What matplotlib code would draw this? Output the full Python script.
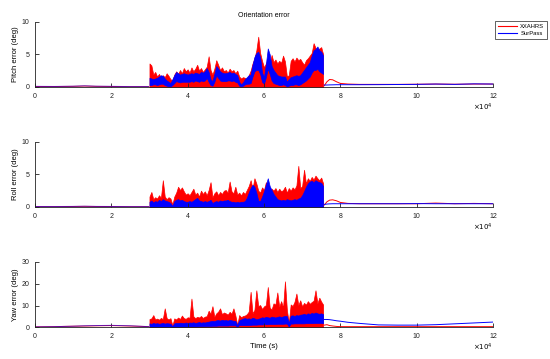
import numpy as np
import matplotlib
matplotlib.use("Agg")
import matplotlib.pyplot as plt

plt.rcParams['font.family'] = ['Liberation Sans', 'DejaVu Sans']

# sample times of the noisy part, in units of 1e4 s (3.00 .. 7.55, every 0.05)
t_noise = np.round(np.arange(3.0, 7.56, 0.05), 2) * 1e4

# quiet parts before / after the noisy part
t_before = np.array([0, 0.5, 1.0, 1.3, 1.6, 2.0, 2.5, 2.98]) * 1e4
t_after = np.array([7.58, 7.65, 7.72, 7.8, 7.9, 8.0, 8.2, 8.5, 9.0, 9.5, 10.0, 10.5, 11.0, 11.5, 12.0]) * 1e4

# ---- pitch ----
pitch_red_top = [
    3.6, 3.3, 1.9, 2.3, 1.6, 2.0, 1.4, 1.8, 1.5, 2.1,
    1.7, 1.2, 1.0, 1.9, 2.4, 2.0, 2.6, 2.1, 2.9, 2.4,
    2.7, 2.2, 3.0, 2.4, 2.8, 3.4, 2.5, 2.9, 2.3, 2.7,
    3.1, 4.7, 2.6, 1.9, 2.8, 4.1, 3.4, 2.6, 3.0, 2.4,
    2.6, 2.2, 2.8, 2.4, 2.6, 2.1, 2.5, 1.6, 1.3, 1.5,
    1.4, 1.2, 1.8, 2.5, 3.6, 4.4, 5.6, 7.7, 5.2, 4.0,
    3.0, 3.6, 4.2, 3.5, 4.9, 3.8, 4.2, 3.6, 4.0, 3.7,
    4.8, 3.9, 1.6, 1.8, 4.0, 4.4, 3.9, 4.5, 4.1, 4.3,
    3.8, 3.4, 4.1, 4.4, 4.8, 5.2, 6.7, 6.0, 5.5, 5.9,
    6.1, 5.0]
pitch_blue_hi = [
    1.4, 1.3, 1.2, 1.3, 1.4, 1.6, 1.8, 1.7, 1.3, 1.0,
    0.8, 0.6, 1.2, 1.8, 2.3, 2.1, 1.9, 2.0, 2.1, 2.0,
    1.9, 2.0, 2.1, 2.0, 2.2, 2.1, 2.0, 2.3, 2.2, 2.4,
    2.9, 2.3, 1.2, 0.9, 2.0, 3.2, 2.8, 2.4, 2.2, 2.1,
    2.1, 2.2, 2.3, 2.1, 2.2, 2.0, 1.8, 0.8, 0.4, 0.7,
    1.2, 1.5, 1.8, 1.9, 3.4, 4.6, 5.2, 5.4, 4.5, 2.2,
    1.5, 3.5, 5.9, 5.0, 3.2, 2.6, 2.2, 1.8, 1.7, 1.6,
    1.6, 1.6, 0.8, 1.2, 1.5, 1.6, 1.7, 1.8, 1.7, 1.8,
    2.2, 2.6, 3.0, 3.4, 3.8, 4.8, 5.6, 5.8, 6.2, 5.6,
    5.4, 4.8]
pitch_blue_lo = [
    0.3, 0.3, 0.4, 0.4, 0.3, 0.4, 0.5, 0.5, 0.3, 0.2,
    0.1, 0.1, 0.3, 0.6, 0.9, 0.8, 0.7, 0.8, 0.8, 0.8,
    0.8, 0.8, 0.9, 0.8, 1.0, 0.9, 0.8, 1.0, 0.9, 1.0,
    1.4, 0.8, 0.3, 0.2, 0.8, 1.8, 1.4, 1.0, 0.9, 0.9,
    0.9, 1.0, 1.0, 0.9, 1.0, 0.8, 0.7, 0.2, 0.1, 0.2,
    0.4, 0.5, 0.5, 0.6, 1.6, 2.4, 2.6, 2.6, 2.0, 0.8,
    0.5, 1.5, 2.8, 2.0, 1.0, 0.6, 0.5, 0.4, 0.3, 0.3,
    0.4, 0.3, 0.1, 0.2, 0.3, 0.3, 0.4, 0.4, 0.3, 0.4,
    0.6, 0.8, 1.0, 1.3, 1.6, 2.2, 2.6, 2.6, 2.8, 2.4,
    2.2, 2.0]
pitch_red_before = [0.08, 0.07, 0.1, 0.15, 0.1, 0.08, 0.05, 0.05]
pitch_blue_before = [0.1, 0.08, 0.12, 0.18, 0.12, 0.1, 0.06, 0.06]
pitch_red_after = [0.2, 0.8, 1.15, 1.1, 0.8, 0.55, 0.45, 0.4, 0.4, 0.4, 0.42, 0.45, 0.42, 0.45, 0.45]
pitch_blue_after = [0.3, 0.3, 0.32, 0.33, 0.35, 0.35, 0.35, 0.35, 0.36, 0.38, 0.4, 0.45, 0.4, 0.48, 0.45]

# ---- roll ----
roll_red_top = [
    1.6, 2.3, 1.2, 1.5, 1.3, 1.8, 1.4, 4.1, 1.6, 1.2,
    1.5, 1.3, 0.4, 1.6, 2.2, 3.1, 2.6, 3.0, 2.4, 1.9,
    2.1, 1.8, 2.3, 2.8, 1.9, 2.2, 1.6, 2.5, 2.0, 2.4,
    1.8, 2.6, 3.8, 1.5, 2.1, 2.4, 1.8, 2.3, 2.0, 2.5,
    2.6, 2.2, 3.9, 2.4, 2.1, 3.1, 1.9, 2.2, 1.8, 2.3,
    2.0, 2.6, 3.2, 4.1, 2.8, 4.4, 3.6, 2.5, 2.2, 3.0,
    2.6, 3.8, 3.2, 2.4, 2.8, 2.5, 2.9, 2.3, 2.8, 2.4,
    2.6, 3.1, 2.2, 2.9, 2.5, 3.0, 2.7, 3.3, 6.3, 2.9,
    3.2, 5.7, 3.6, 4.4, 4.0, 4.6, 4.2, 4.8, 4.4, 4.1,
    4.5, 3.6]
roll_blue_hi = [
    0.8, 1.0, 0.7, 0.9, 0.8, 1.1, 0.9, 1.2, 1.0, 0.9,
    0.8, 0.6, 0.2, 0.9, 1.1, 1.2, 1.0, 1.1, 0.9, 0.8,
    0.8, 0.9, 0.8, 1.0, 1.2, 1.4, 1.0, 0.9, 0.8, 0.9,
    0.8, 0.9, 1.1, 0.6, 0.8, 0.9, 0.8, 1.0, 0.9, 1.0,
    1.0, 1.1, 0.9, 0.8, 0.8, 0.7, 0.8, 0.7, 0.8, 0.8,
    0.9, 1.4, 2.2, 2.9, 3.4, 3.1, 2.2, 1.0, 0.9, 1.6,
    2.4, 3.4, 4.4, 3.2, 2.6, 2.0, 1.6, 1.2, 1.1, 1.0,
    1.1, 1.0, 1.2, 1.1, 1.0, 1.1, 1.2, 1.1, 1.3, 1.4,
    1.8, 2.4, 3.1, 3.6, 3.9, 4.0, 3.8, 4.1, 3.9, 3.8,
    3.7, 3.2]
roll_red_before = [0.06, 0.06, 0.08, 0.1, 0.08, 0.07, 0.05, 0.05]
roll_blue_before = [0.08, 0.07, 0.09, 0.12, 0.09, 0.08, 0.06, 0.06]
roll_red_after = [0.3, 0.8, 1.05, 1.1, 0.95, 0.7, 0.55, 0.5, 0.5, 0.5, 0.5, 0.6, 0.5, 0.55, 0.5]
roll_blue_after = [0.4, 0.45, 0.48, 0.5, 0.5, 0.5, 0.5, 0.5, 0.5, 0.5, 0.52, 0.5, 0.5, 0.5, 0.5]

# ---- yaw ----
yaw_red_top = [
    3.8, 4.1, 5.6, 3.6, 4.0, 3.5, 4.3, 3.8, 8.7, 4.2,
    3.6, 4.2, 0.8, 4.1, 3.6, 4.5, 3.8, 5.4, 4.2, 3.9,
    4.6, 4.4, 13.2, 5.0, 4.2, 4.8, 4.5, 5.2, 4.3, 4.9,
    5.1, 7.6, 6.2, 9.7, 4.8, 6.4, 7.2, 8.7, 6.0, 6.8,
    6.4, 5.8, 7.1, 6.2, 8.7, 5.5, 1.0, 5.6, 4.6, 5.2,
    5.4, 6.0, 7.2, 16.3, 6.4, 8.0, 17.0, 9.8, 10.2, 8.4,
    9.6, 10.2, 18.5, 9.0, 8.2, 11.0, 10.4, 16.0, 9.4, 12.0,
    9.0, 21.1, 8.0, 2.0, 10.5, 9.8, 11.7, 15.5, 10.2, 12.4,
    9.6, 11.2, 10.4, 12.0, 10.8, 11.6, 12.2, 17.0, 11.0, 13.6,
    11.8, 10.4]
yaw_blue_hi = [
    1.8, 1.6, 2.0, 1.7, 1.9, 1.6, 1.8, 2.0, 1.7, 1.9,
    1.8, 1.6, 0.5, 1.8, 2.0, 1.9, 2.1, 2.0, 1.9, 2.2,
    2.0, 2.2, 2.1, 2.3, 2.0, 2.2, 2.4, 2.1, 2.3, 2.2,
    2.4, 2.6, 2.8, 3.0, 2.8, 3.2, 3.3, 3.1, 3.4, 3.2,
    3.3, 3.1, 3.4, 3.2, 3.0, 2.9, 1.0, 3.2, 3.6, 4.0,
    4.2, 3.9, 4.1, 3.8, 4.4, 4.1, 3.6, 3.9, 4.2, 4.6,
    4.4, 4.8, 4.6, 4.4, 4.9, 4.7, 4.5, 4.8, 5.0, 4.7,
    5.0, 5.2, 5.1, 2.0, 5.3, 5.5, 5.2, 5.6, 5.4, 5.8,
    5.9, 6.2, 5.8, 6.4, 6.1, 6.6, 6.3, 6.8, 6.4, 6.2,
    6.4, 6.0]
yaw_blue_lo = [
    0.3, 0.3, 0.3, 0.3, 0.3, 0.3, 0.3, 0.3, 0.3, 0.3,
    0.3, 0.3, 0.1, 0.3, 0.3, 0.3, 0.3, 0.3, 0.3, 0.3,
    0.3, 0.4, 0.4, 0.4, 0.4, 0.4, 0.5, 0.5, 0.5, 0.5,
    0.6, 0.6, 0.6, 0.7, 0.7, 0.7, 0.8, 0.8, 0.8, 0.8,
    0.8, 0.8, 0.9, 0.9, 0.9, 0.9, 0.3, 1.0, 1.0, 1.0,
    1.0, 1.0, 1.1, 1.1, 1.2, 1.2, 1.2, 1.3, 1.3, 1.3,
    1.4, 1.4, 1.4, 1.5, 1.5, 1.5, 1.5, 1.6, 1.6, 1.6,
    1.6, 1.7, 1.7, 0.4, 1.7, 1.7, 1.8, 1.8, 1.8, 1.8,
    1.8, 1.8, 1.9, 1.9, 1.9, 1.9, 1.9, 2.0, 2.0, 2.0,
    2.0, 1.9]
yaw_red_before = [0.2, 0.3, 0.5, 0.6, 0.7, 0.8, 0.6, 0.3]
yaw_blue_before = [0.2, 0.3, 0.5, 0.7, 0.8, 0.9, 0.7, 0.3]
yaw_red_after = [1.0, 1.2, 0.8, 0.6, 0.4, 0.3, 0.3, 0.3, 0.3, 0.3, 0.3, 0.3, 0.3, 0.3, 0.3]
yaw_blue_after = [3.6, 3.6, 3.5, 3.3, 3.0, 2.8, 2.3, 1.8, 1.1, 1.0, 1.0, 1.2, 1.6, 2.0, 2.4]

RED = '#ff0000'
BLUE = '#0000ff'

panels = [
    ("Pitch error (deg)", 10, [0, 5, 10], pitch_red_top, pitch_blue_lo, pitch_blue_hi,
     pitch_red_before, pitch_blue_before, pitch_red_after, pitch_blue_after),
    ("Roll error (deg)", 10, [0, 5, 10], roll_red_top, None, roll_blue_hi,
     roll_red_before, roll_blue_before, roll_red_after, roll_blue_after),
    ("Yaw error (deg)", 30, [0, 10, 20, 30], yaw_red_top, yaw_blue_lo, yaw_blue_hi,
     yaw_red_before, yaw_blue_before, yaw_red_after, yaw_blue_after),
]
bottoms = [0.7577, 0.4234, 0.0883]

fig = plt.figure(figsize=(5.5, 3.59), dpi=100)
axes = []
for (label, ymax, yticks, rtop, blo, bhi, rb, bb, ra, ba), bot in zip(panels, bottoms):
    ax = fig.add_axes([0.0636, bot, 0.8327, 0.182])
    axes.append(ax)
    ax.fill_between(t_noise, 0, rtop, color=RED, lw=0.5, edgecolor=RED)
    lo = np.zeros(len(bhi)) if blo is None else blo
    ax.fill_between(t_noise, lo, bhi, color=BLUE, lw=0.5, edgecolor=BLUE)
    ax.plot(t_before, rb, color=RED, lw=0.7)
    ax.plot(t_before, bb, color=BLUE, lw=0.7, alpha=0.6)
    ax.plot(t_after, ra, color=RED, lw=0.7)
    ax.plot(t_after, ba, color=BLUE, lw=0.7)
    ax.set_xlim(0, 12e4)
    ax.set_ylim(0, ymax)
    ax.set_yticks(yticks)
    ax.set_xticks(np.arange(0, 12.1, 2) * 1e4)
    ax.set_xticklabels([str(v) for v in range(0, 13, 2)])
    ax.tick_params(direction='in', length=3, width=0.6, labelsize=5, pad=4, colors='#222222')
    for s in ['top', 'right']:
        ax.spines[s].set_visible(False)
    for s in ['left', 'bottom']:
        ax.spines[s].set_linewidth(0.6)
        ax.spines[s].set_color('#222222')
    ax.set_ylabel(label, fontsize=5.5, labelpad=2)
    ax.text(1.0, -0.31, r'$\times10^4$', transform=ax.transAxes, ha='right', va='center', fontsize=5)

axes[0].set_title("Orientation error", fontsize=5, pad=3)
axes[2].set_xlabel("Time (s)", fontsize=5.5, labelpad=2)

handles = [plt.Line2D([], [], color=RED, lw=0.8), plt.Line2D([], [], color=BLUE, lw=0.8)]
leg = fig.legend(handles, ["XXAHRS", "SurPass"], loc='upper left', bbox_to_anchor=(0.895, 0.95),
                 fontsize=4.2, fancybox=False, framealpha=1, edgecolor='#222222',
                 handlelength=3.2, borderpad=0.5, labelspacing=0.4, handletextpad=0.6)
leg.get_frame().set_linewidth(0.5)

fig.savefig("out.png", dpi=100)
